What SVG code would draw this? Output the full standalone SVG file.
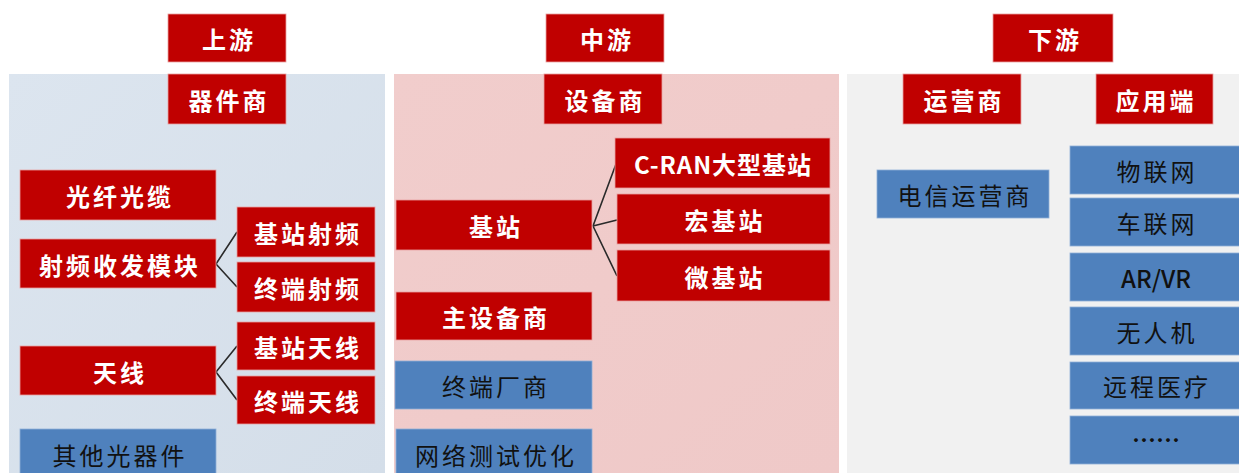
<svg xmlns="http://www.w3.org/2000/svg" width="1239" height="473" viewBox="0 0 1239 473">
<defs>
<style>
.red{fill:#c00000;stroke:#e8a0a0;stroke-width:0.8}
.blue{fill:#4f81bd;stroke:#8fb0d8;stroke-width:0.8}
.tw{font-family:"Noto Sans CJK SC","Noto Sans",sans-serif;font-size:24px;font-weight:bold;fill:#ffffff;text-anchor:middle;dominant-baseline:central;letter-spacing:3px}
.tb{font-family:"Noto Sans CJK SC","Noto Sans",sans-serif;font-size:24px;font-weight:normal;fill:#111111;text-anchor:middle;dominant-baseline:central;letter-spacing:3px}
.conn{stroke:#2a2a2a;stroke-width:1.6;fill:none}
</style>
<linearGradient id="gL" x1="0" y1="0" x2="1" y2="1">
<stop offset="0" stop-color="#dce5ef"/><stop offset="1" stop-color="#d4dee9"/>
</linearGradient>
<linearGradient id="gM" x1="0" y1="0" x2="1" y2="1">
<stop offset="0" stop-color="#f1cdcc"/><stop offset="1" stop-color="#efc9c8"/>
</linearGradient>
</defs>
<rect x="0" y="0" width="1239" height="473" fill="#ffffff"/>
<g id="panels">
<rect x="9" y="74" width="376" height="399" fill="url(#gL)"/>
<rect x="394" y="74" width="445" height="399" fill="url(#gM)"/>
<rect x="847" y="74" width="392" height="399" fill="#f1f1f1"/>
</g>
<g id="connectors">
<path class="conn" d="M216,264 L237,232 M216,264 L237,287"/>
<path class="conn" d="M216,372 L237,346 M216,372 L237,400"/>
<path class="conn" d="M593,226 L616,164 M593,226 L617,220 M593,226 L617,276"/>
</g>
<g id="n-shangyou"><rect class="red" x="168" y="14" width="118" height="48"/><text class="tw" x="229" y="38">上游</text></g>
<g id="n-qijianshang"><rect class="red" x="168" y="74" width="118" height="50"/><text class="tw" x="229" y="99">器件商</text></g>
<g id="n-guangxian"><rect class="red" x="20" y="170" width="196" height="50"/><text class="tw" x="120" y="195">光纤光缆</text></g>
<g id="n-shepin"><rect class="red" x="20" y="239" width="196" height="49"/><text class="tw" x="120" y="264">射频收发模块</text></g>
<g id="n-tianxian"><rect class="red" x="20" y="346" width="196" height="49"/><text class="tw" x="120" y="371">天线</text></g>
<g id="n-qita"><rect class="blue" x="20" y="429" width="196" height="50"/><text class="tb" x="120" y="454">其他光器件</text></g>
<g id="n-jzsp"><rect class="red" x="237" y="207" width="138" height="50"/><text class="tw" x="308" y="232">基站射频</text></g>
<g id="n-zdsp"><rect class="red" x="237" y="262" width="138" height="50"/><text class="tw" x="308" y="287">终端射频</text></g>
<g id="n-jztx"><rect class="red" x="237" y="322" width="138" height="48"/><text class="tw" x="308" y="346">基站天线</text></g>
<g id="n-zdtx"><rect class="red" x="237" y="376" width="138" height="48"/><text class="tw" x="308" y="400">终端天线</text></g>
<g id="n-zhongyou"><rect class="red" x="546" y="14" width="118" height="48"/><text class="tw" x="607" y="38">中游</text></g>
<g id="n-shebeishang"><rect class="red" x="544" y="74" width="118" height="50"/><text class="tw" x="605" y="99">设备商</text></g>
<g id="n-jizhan"><rect class="red" x="396" y="200" width="196" height="50"/><text class="tw" x="496" y="225">基站</text></g>
<g id="n-zhushebei"><rect class="red" x="396" y="292" width="196" height="48"/><text class="tw" x="496" y="316">主设备商</text></g>
<g id="n-zhongduan"><rect class="blue" x="395" y="361" width="197" height="48"/><text class="tb" x="496" y="385">终端厂商</text></g>
<g id="n-wangluo"><rect class="blue" x="396" y="429" width="196" height="50"/><text class="tb" x="496" y="454">网络测试优化</text></g>
<g id="n-cran"><rect class="red" x="615" y="138" width="215" height="50"/><text class="tw" x="723" y="163" style="letter-spacing:1px">C-RAN大型基站</text></g>
<g id="n-hong"><rect class="red" x="617" y="194" width="213" height="50"/><text class="tw" x="725" y="219">宏基站</text></g>
<g id="n-wei"><rect class="red" x="617" y="250" width="213" height="51"/><text class="tw" x="725" y="276">微基站</text></g>
<g id="n-xiayou"><rect class="red" x="993" y="14" width="120" height="48"/><text class="tw" x="1055" y="38">下游</text></g>
<g id="n-yunying"><rect class="red" x="903" y="74" width="118" height="50"/><text class="tw" x="964" y="99">运营商</text></g>
<g id="n-yingyong"><rect class="red" x="1096" y="74" width="117" height="50"/><text class="tw" x="1156" y="99">应用端</text></g>
<g id="n-dianxin"><rect class="blue" x="877" y="170" width="172" height="48"/><text class="tb" x="965" y="194">电信运营商</text></g>
<g id="n-wulian"><rect class="blue" x="1070" y="146" width="172" height="48"/><text class="tb" x="1157" y="170">物联网</text></g>
<g id="n-chelian"><rect class="blue" x="1070" y="198" width="172" height="48"/><text class="tb" x="1157" y="222">车联网</text></g>
<g id="n-arvr"><rect class="blue" x="1070" y="253" width="172" height="48"/><text class="tb" x="1156" y="277" style="letter-spacing:0px;font-weight:500">AR/VR</text></g>
<g id="n-wurenji"><rect class="blue" x="1070" y="307" width="172" height="48"/><text class="tb" x="1157" y="331">无人机</text></g>
<g id="n-yuancheng"><rect class="blue" x="1070" y="362" width="172" height="47"/><text class="tb" x="1157" y="385">远程医疗</text></g>
<g id="n-more"><rect class="blue" x="1070" y="416" width="172" height="48"/><text class="tb" x="1156" y="438" style="letter-spacing:0px;font-weight:bold">……</text></g>
</svg>
